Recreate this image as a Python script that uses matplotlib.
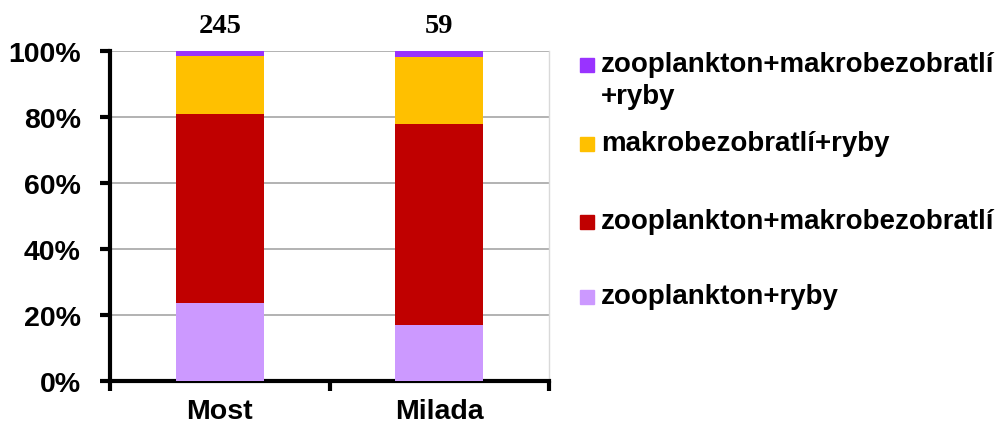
import matplotlib
matplotlib.use('Agg')
import matplotlib.pyplot as plt
from matplotlib.patches import Rectangle
import numpy as np

# data: diet composition (%) per locality
localities = ['Most', 'Milada']
n_fish = [245, 59]
series_names = ['zooplankton+ryby', 'zooplankton+makrobezobratlí',
                'makrobezobratlí+ryby', 'zooplankton+makrobezobratlí\n+ryby']
zoo_ryby = [23.7, 16.9]
zoo_makro = [57.1, 61.0]
makro_ryby = [17.6, 20.4]
zoo_makro_ryby = [1.6, 1.7]
colors = ['#cc99ff', '#c00000', '#ffc000', '#9933ff']

plt.rcParams['font.family'] = ['Liberation Sans', 'DejaVu Sans']

fig = plt.figure(figsize=(10.03, 4.27), dpi=100)
ax = fig.add_axes([110 / 1003, 45 / 427, 439 / 1003, 330 / 427])

x = np.arange(len(localities))
bottom = np.zeros(len(localities))
for vals, col in zip([zoo_ryby, zoo_makro, makro_ryby, zoo_makro_ryby], colors):
    ax.bar(x, vals, width=0.4, bottom=bottom, color=col, zorder=3)
    bottom += np.array(vals)

ax.set_xlim(-0.5, 1.5)
ax.set_ylim(0, 100)
ax.set_yticks(range(0, 101, 20))
ax.set_yticklabels([f'{v}%' for v in range(0, 101, 20)], fontsize=20.5, fontweight='bold')
ax.yaxis.grid(True, color='#a6a6a6', linewidth=1.2, zorder=0)

ax.set_xticks([-0.5, 0.5, 1.5])
ax.set_xticklabels([])
ax.set_xticks(x, minor=True)
ax.set_xticklabels(localities, minor=True, fontsize=20.5, fontweight='bold')
ax.tick_params(axis='x', which='minor', length=0, pad=12)
ax.tick_params(axis='x', which='major', length=7, width=3, direction='out')
ax.tick_params(axis='y', length=7, width=3, direction='out', pad=14)

for s in ['left', 'bottom']:
    ax.spines[s].set_linewidth(3)
ax.spines['top'].set_visible(False)
ax.spines['right'].set_color('#d9d9d9')
ax.spines['right'].set_linewidth(1)

# sample sizes above bars
for xi, n in zip(x, n_fish):
    ax.text(xi, 104, str(n), ha='center', va='bottom', fontsize=20.5,
            fontweight='bold', family='Liberation Serif')

# legend (top to bottom)
leg_y = [1 - 66 / 427, 1 - 145 / 427, 1 - 223 / 427, 1 - 298 / 427]
for name, col, yy in zip(series_names[::-1], colors[::-1], leg_y):
    fig.patches.append(Rectangle((580 / 1003, yy - 7 / 427), 14 / 1003, 14 / 427,
                                 transform=fig.transFigure, color=col, figure=fig))
    fig.text(601 / 1003, yy + 14 / 427, name, ha='left', va='top', fontsize=20,
             fontweight='bold', linespacing=1.3)

fig.savefig('out.png', dpi=100)
